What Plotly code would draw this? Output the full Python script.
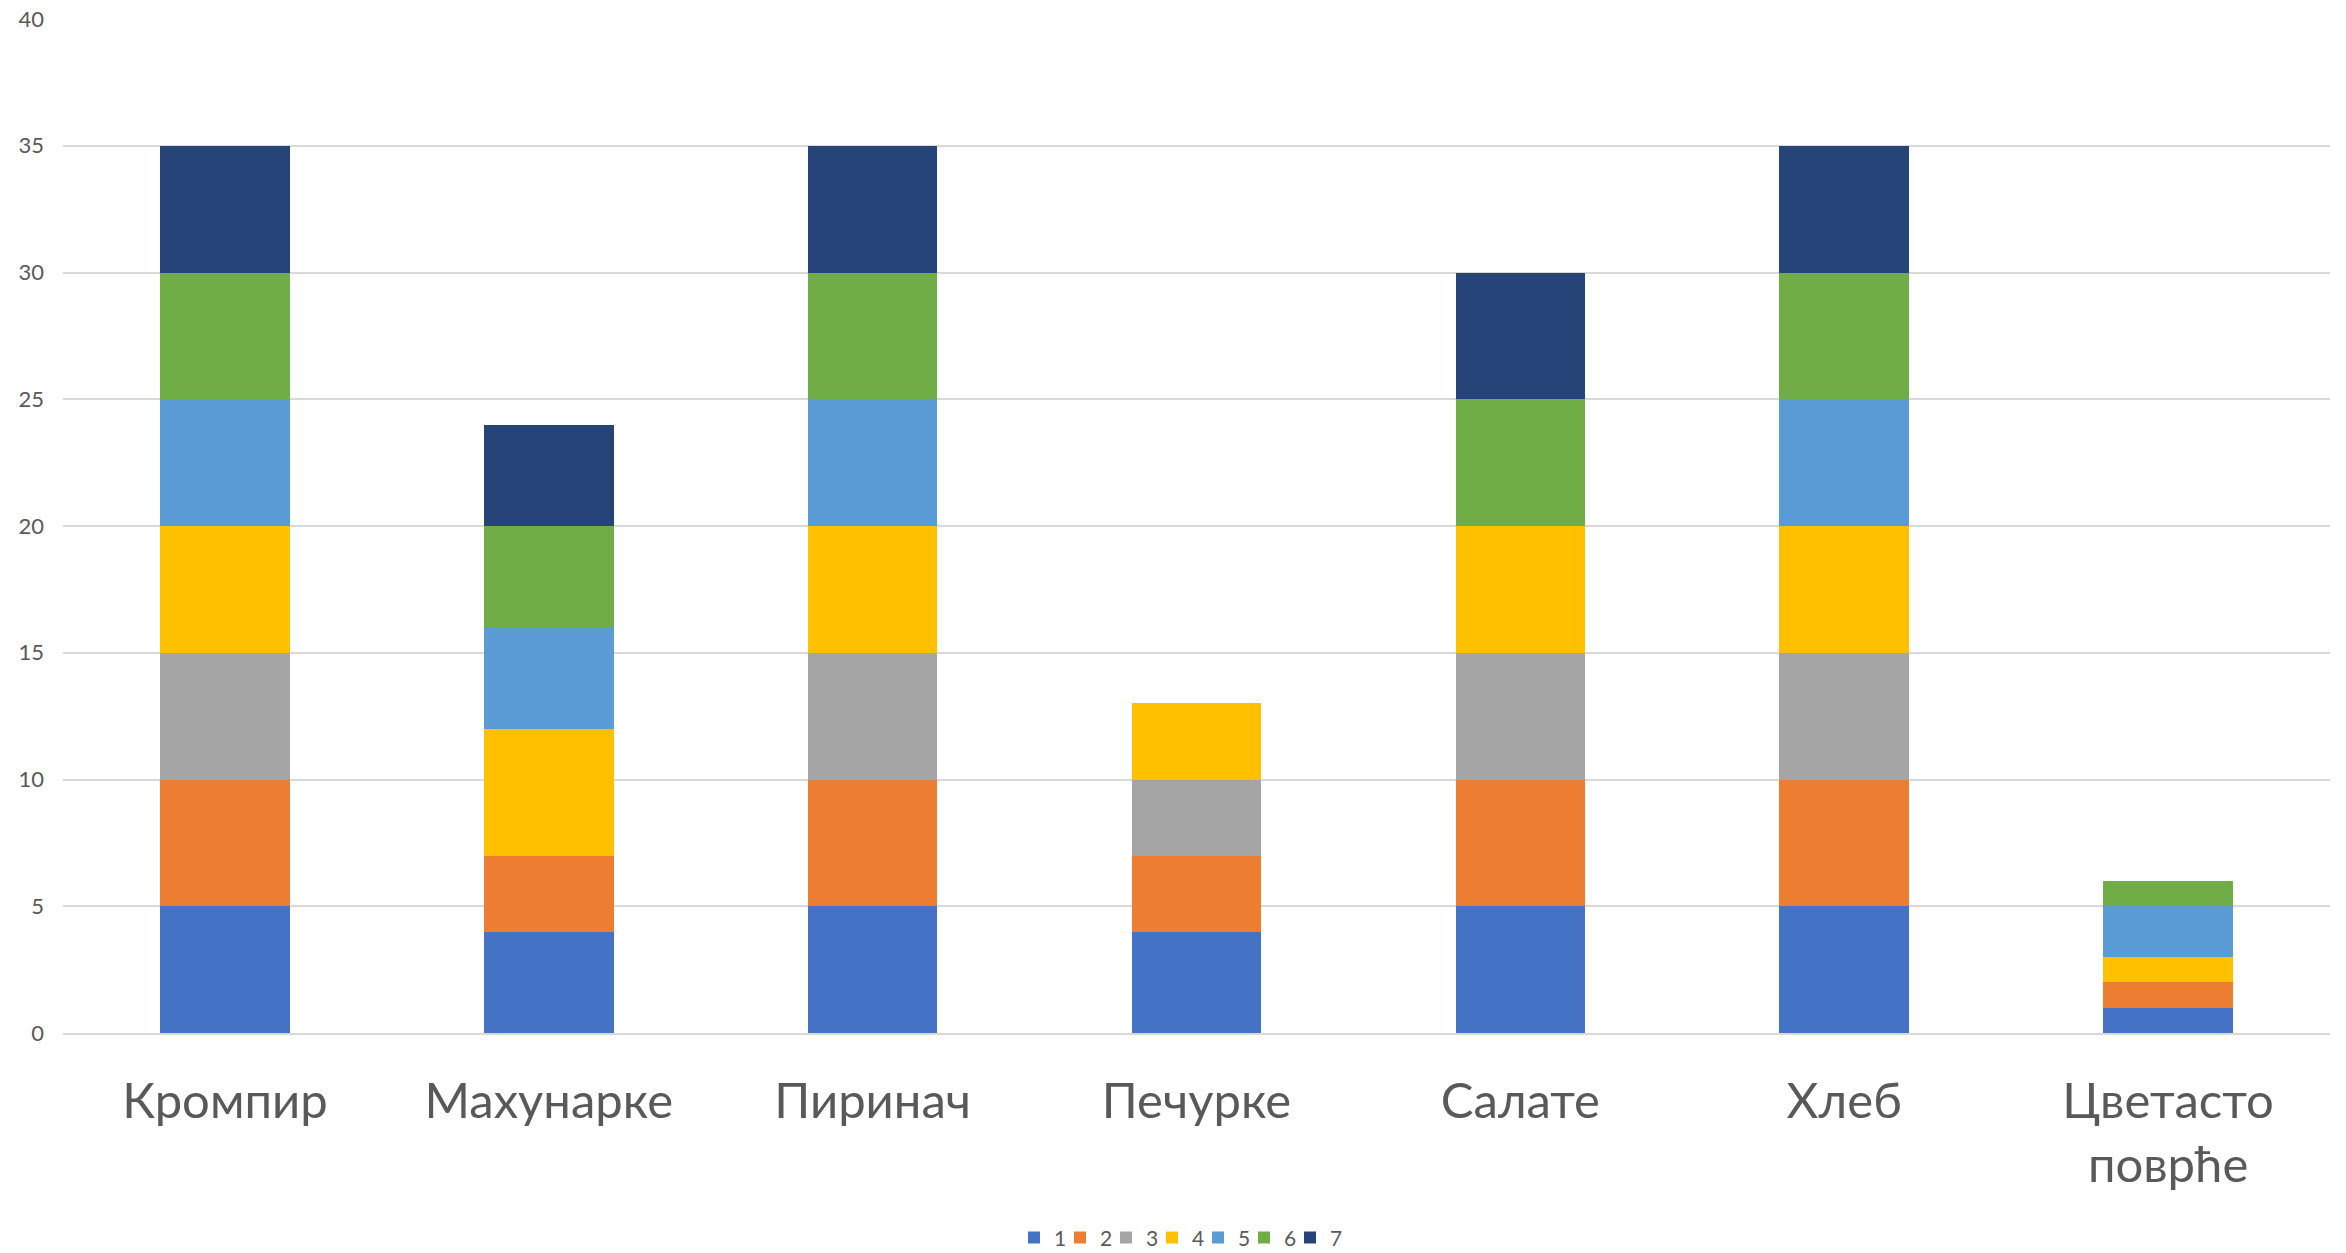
import plotly.graph_objects as go

# Food categories on the x axis
categories = ["Кромпир", "Махунарке", "Пиринач", "Печурке", "Салате", "Хлеб", "Цветасто<br>поврће"]

# Stacked series (legend labels 1..7), one value per category
series_names = ["1", "2", "3", "4", "5", "6", "7"]
s1 = [5, 4, 5, 4, 5, 5, 1]
s2 = [5, 3, 5, 3, 5, 5, 1]
s3 = [5, 0, 5, 3, 5, 5, 0]
s4 = [5, 5, 5, 3, 5, 5, 1]
s5 = [5, 4, 5, 0, 0, 5, 2]
s6 = [5, 4, 5, 0, 5, 5, 1]
s7 = [5, 4, 5, 0, 5, 5, 0]
series_values = [s1, s2, s3, s4, s5, s6, s7]

colors = ["#4472C4", "#ED7D31", "#A5A5A5", "#FFC000", "#5B9BD5", "#70AD47", "#264478"]

y_ticks = [0, 5, 10, 15, 20, 25, 30, 35, 40]

fig = go.Figure()
for name, vals, col in zip(series_names, series_values, colors):
    fig.add_trace(go.Bar(
        x=categories,
        y=vals,
        name=name,
        marker=dict(color=col, line=dict(width=0)),
    ))

# blank trailing legend slot so the compact legend keeps room for the last label
fig.add_trace(go.Bar(
    x=[categories[0]], y=[0], name=" ",
    marker=dict(color="rgba(0,0,0,0)", line=dict(width=0)),
    hoverinfo="skip",
))

fig.update_layout(
    barmode="stack",
    bargap=0.6,
    width=2346,
    height=1253,
    margin=dict(l=63, r=16, t=19, b=220, autoexpand=False),
    paper_bgcolor="white",
    plot_bgcolor="white",
    font=dict(family="Lato, Carlito, sans-serif", color="#595959"),
    showlegend=True,
    legend=dict(
        orientation="h",
        x=0.4195, xanchor="left",
        yref="container", y=0.012, yanchor="middle",
        font=dict(size=21, color="#595959"),
        traceorder="normal",
        itemwidth=30,
        entrywidth=1,
        entrywidthmode="pixels",
    ),
)

fig.update_yaxes(
    range=[0, 40],
    tickvals=y_ticks,
    showgrid=True,
    gridcolor="#D9D9D9",
    gridwidth=2,
    zeroline=False,
    showline=False,
    ticks="",
    automargin=False,
    ticklabelstandoff=18,
    tickfont=dict(size=22, color="#595959"),
)

fig.update_xaxes(
    showgrid=False,
    showline=True,
    linecolor="#D9D9D9",
    linewidth=2,
    ticks="",
    automargin=False,
    ticklabelstandoff=24,
    tickfont=dict(size=49, color="#595959"),
)

fig.write_html("out.html")
